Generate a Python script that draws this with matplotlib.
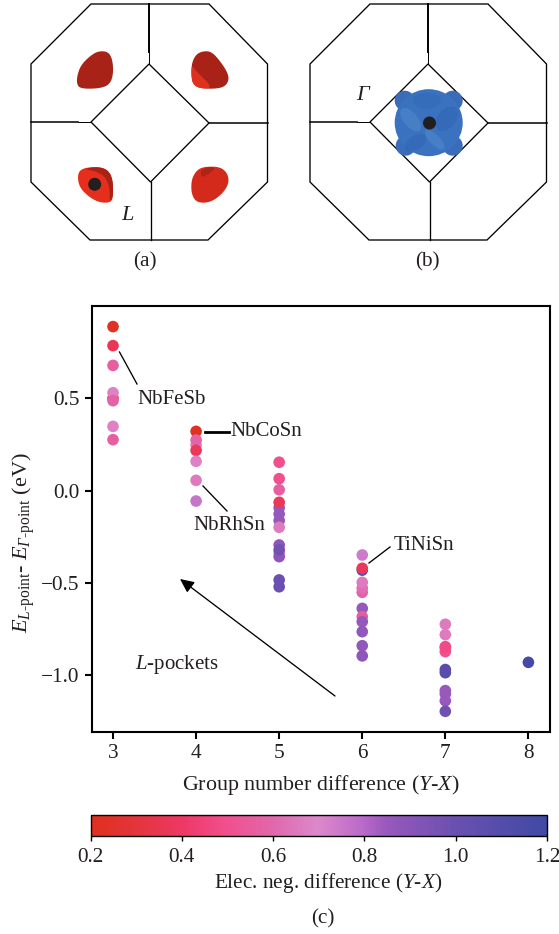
# Brillouin zone sketches and L/Gamma pocket scatter plot
import numpy as np
import matplotlib
matplotlib.use("Agg")
import matplotlib.pyplot as plt
from matplotlib.colors import LinearSegmentedColormap, Normalize
from matplotlib.patches import Circle, Polygon, Ellipse

plt.rcParams['font.family'] = ['Liberation Serif', 'DejaVu Serif']
# capital greek goes to the rm slot in math text, so rm is italic here and sf is the upright one
plt.rcParams['mathtext.fontset'] = 'custom'
plt.rcParams['mathtext.rm'] = 'Liberation Serif:italic'
plt.rcParams['mathtext.it'] = 'Liberation Serif:italic'
plt.rcParams['mathtext.sf'] = 'Liberation Serif'

# energy difference and elec. neg. difference, one pair of lists per group number difference
energy_3 = [0.888, 0.785, 0.678, 0.50, 0.53, 0.487, 0.348, 0.276]
elec_3 = [0.22, 0.36, 0.56, 0.25, 0.68, 0.58, 0.68, 0.56]

energy_4 = [0.321, 0.247, 0.274, 0.218, 0.159, 0.056, -0.056]
elec_4 = [0.22, 0.66, 0.58, 0.37, 0.68, 0.66, 0.76]

energy_5 = [0.154, 0.065, 0.005, -0.092, -0.126, -0.162, -0.063, -0.198,
            -0.294, -0.337, -0.357, -0.32, -0.483, -0.52]
elec_5 = [0.5, 0.5, 0.56, 0.86, 0.86, 0.86, 0.37, 0.66,
          0.88, 0.68, 0.88, 0.97, 1.0, 1.0]

energy_6 = [-0.348, -0.43, -0.42, -0.55, -0.527, -0.496, -0.637, -0.682,
            -0.709, -0.763, -0.839, -0.894]
elec_6 = [0.74, 1.1, 0.37, 0.58, 0.62, 0.66, 0.86, 0.55, 0.86, 0.87, 0.87, 0.88]

energy_7 = [-0.723, -0.779, -0.844, -0.871, -0.968, -0.985, -1.082, -1.10,
            -1.137, -1.194, -0.85]
elec_7 = [0.66, 0.66, 0.48, 0.5, 1.08, 1.08, 0.85, 0.85, 0.85, 0.98, 0.48]

energy_8 = [-0.929]
elec_8 = [1.17]

groups = [3] * len(energy_3) + [4] * len(energy_4) + [5] * len(energy_5) \
    + [6] * len(energy_6) + [7] * len(energy_7) + [8] * len(energy_8)
energies = energy_3 + energy_4 + energy_5 + energy_6 + energy_7 + energy_8
elecs = elec_3 + elec_4 + elec_5 + elec_6 + elec_7 + elec_8

x_ticks = [3, 4, 5, 6, 7, 8]
y_ticks = [-1.0, -0.5, 0.0, 0.5]
y_labels = ['\u22121.0', '\u22120.5', '0.0', '0.5']
cbar_ticks = [0.2, 0.4, 0.6, 0.8, 1.0, 1.2]

cmap_nodes = [(0.0, '#e02f1e'), (0.1, '#e3353c'), (0.2, '#ee3866'), (0.3, '#f0508f'),
              (0.4, '#e068ac'), (0.5, '#dd88cc'), (0.6, '#b868c8'), (0.65, '#9858bc'),
              (0.8, '#6a50b0'), (1.0, '#4049a5')]
cmap = LinearSegmentedColormap.from_list('elec', cmap_nodes)
norm = Normalize(0.2, 1.2)

W, H = 559, 934
TEXT = '#231f20'
FS = 15.3
fig = plt.figure(figsize=(W / 100, H / 100), dpi=100)


def px_axes(left, top, right, bottom):
    return fig.add_axes([left / W, 1 - bottom / H, (right - left) / W, (bottom - top) / H])


# main scatter panel
ax = px_axes(92, 306, 550, 732)
sc = ax.scatter(groups, energies, c=elecs, cmap=cmap, norm=norm, s=70, linewidths=0, zorder=3)
ax.set_xlim(2.747, 8.26)
ax.set_ylim(-1.306, 0.9995)
ax.set_xticks(x_ticks)
ax.set_yticks(y_ticks)
ax.set_yticklabels(y_labels)
ax.tick_params(direction='out', length=5, width=1.5, labelsize=FS, colors=TEXT, pad=4)
ax.tick_params(axis='both', color='black')
for s in ax.spines.values():
    s.set_linewidth(1.5)
    s.set_color('black')
ax.set_xlabel('Group number difference ($\\mathit{Y}$-$\\mathit{X}$)', fontsize=15.8, color=TEXT, labelpad=7)
ax.set_ylabel('$E_{L\\text{-}\\mathsf{point}}$- $E_{\\Gamma\\text{-}\\mathsf{point}}$ (eV)',
              fontsize=16, color=TEXT)
ax.yaxis.set_label_coords(-0.12, 0.444)

# colour bar
cax = px_axes(90.5, 815, 547, 836)
cb = fig.colorbar(sc, cax=cax, orientation='horizontal')
cb.set_ticks(cbar_ticks)
cb.set_ticklabels(['%.1f' % t for t in cbar_ticks])
cax.tick_params(direction='out', length=3.5, width=1, labelsize=FS, colors=TEXT, pad=5, color='black')
cb.outline.set_linewidth(1)
cb.set_label('Elec. neg. difference ($\\mathit{Y}$-$\\mathit{X}$)', fontsize=FS, color=TEXT, labelpad=3)
cax.xaxis.label.set_x((328.5 - 90.5) / 456.5)

# overlay in pixel coordinates for the sketches and annotations
ov = fig.add_axes([0, 0, 1, 1])
ov.set_xlim(0, W)
ov.set_ylim(H, 0)
ov.axis('off')


def zone(dx):
    octagon = np.array([[91, 4], [209, 4], [267.5, 64], [267.5, 182], [208, 240],
                        [90, 240], [31, 182], [31, 64]], float)
    diamond = np.array([[149, 64], [209, 123], [150.5, 182], [91, 122]], float)
    ov.add_patch(Polygon(octagon + [dx, 0], closed=True, fill=False, ec='black', lw=0.95))
    ov.add_patch(Polygon(diamond + [dx, 0], closed=True, fill=False, ec='black', lw=0.95))
    ov.plot([149 + dx, 149 + dx], [4, 52], color='black', lw=1.4)
    ov.plot([149 + dx, 149 + dx], [52, 64], color='black', lw=0.7)
    ov.plot([150.5 + dx, 150.5 + dx], [182, 240], color='black', lw=0.95)
    ov.plot([31 + dx, 78 + dx], [122, 122], color='black', lw=1.1)
    ov.plot([78 + dx, 91 + dx], [122, 122], color='black', lw=0.7)
    ov.plot([209 + dx, 267.5 + dx], [123, 123], color='black', lw=1.1)


zone(0)
zone(279)


def smooth(points, rounds=3):
    # corner cutting, gives a soft outline from a few traced points
    pts = np.array(points, float) / 3
    for _ in range(rounds):
        nxt = np.roll(pts, -1, axis=0)
        pts = np.column_stack([0.75 * pts + 0.25 * nxt, 0.25 * pts + 0.75 * nxt]).reshape(-1, 2)
    return pts


def blob(points, color, z=2):
    ov.add_patch(Polygon(smooth(points), closed=True, fc=color, ec='none', zorder=z))


def oval(cx, cy, rx, ry, angle, color, z=2, alpha=1.0):
    ov.add_patch(Ellipse((cx, cy), 2 * rx, 2 * ry, angle=angle, fc=color, ec='none', zorder=z, alpha=alpha))


# red pockets, traced on a 3x crop
blob([(232, 225), (243, 195), (270, 168), (295, 153), (325, 155), (338, 180), (340, 225),
      (328, 255), (295, 266), (240, 266), (230, 250)], '#a82217')
blob([(575, 190), (588, 163), (610, 153), (635, 155), (662, 185), (687, 225), (683, 252),
      (660, 266), (600, 266), (578, 252), (574, 225)], '#a82217')
blob([(575, 195), (590, 215), (640, 264), (600, 266), (578, 252), (574, 225)], '#e0301e', 3)
blob([(232, 525), (245, 505), (290, 500), (322, 508), (338, 535), (340, 590), (332, 608),
      (300, 608), (268, 592), (238, 562)], '#e62e1c')
blob([(250, 507), (290, 500), (322, 508), (338, 535), (340, 590), (328, 606), (330, 570),
      (318, 532), (290, 514)], '#a82217', 3)
blob([(574, 540), (588, 513), (610, 500), (660, 500), (683, 520), (687, 550), (667, 582),
      (630, 608), (590, 608), (574, 582)], '#d42a1c')
blob([(600, 512), (625, 500), (650, 503), (622, 525), (605, 532)], '#b02418', 3)

# blue pocket
gamma_x, gamma_y = 428.7, 122.7
for ddx, ddy in [(-24, -22), (24, -22), (-23, 23), (24, 23)]:
    oval(gamma_x + ddx, gamma_y + ddy, 10, 10, 0, '#3a6cba')
oval(gamma_x, gamma_y, 34, 33.5, 0, '#3a72c0')
oval(gamma_x - 18, gamma_y - 3, 7, 14, -40, '#5c94d2', 3, 0.4)
oval(gamma_x + 18, gamma_y - 4, 9, 14, 40, '#2c5fac', 3, 0.4)
oval(gamma_x - 2, gamma_y - 22, 14, 8, 0, '#2f66b4', 3, 0.4)
oval(gamma_x + 6, gamma_y + 17, 5, 13, -45, '#5c94d2', 3, 0.4)
oval(gamma_x - 13, gamma_y + 20, 12, 7, -35, '#2c5fac', 3, 0.4)

# dots marking L and Gamma
ov.add_patch(Circle((94.7, 184.3), 6.5, fc=TEXT, ec='none', zorder=4))
ov.add_patch(Circle((429.5, 123), 6.5, fc=TEXT, ec='none', zorder=4))

ov.text(128, 216, '$L$', fontsize=16, color=TEXT, ha='center', va='center')
ov.text(364, 96, '$\\Gamma$', fontsize=16, color=TEXT, ha='center', va='center')
ov.text(145, 262, '(a)', fontsize=FS, color=TEXT, ha='center', va='center')
ov.text(427, 262, '(b)', fontsize=FS, color=TEXT, ha='center', va='center')
ov.text(323, 919, '(c)', fontsize=FS, color=TEXT, ha='center', va='center')

# compound labels with leader lines
ov.text(137, 399, 'NbFeSb', fontsize=15, color=TEXT, ha='left', va='center')
ov.plot([119.5, 137], [352, 384], color='black', lw=0.95)
ov.text(230.5, 431, 'NbCoSn', fontsize=15, color=TEXT, ha='left', va='center')
ov.plot([205, 229], [431.5, 431.5], color='black', lw=2.0)
ov.text(193.5, 525, 'NbRhSn', fontsize=15, color=TEXT, ha='left', va='center')
ov.plot([203, 227], [486, 511], color='black', lw=0.95)
ov.text(394, 545, 'TiNiSn', fontsize=15, color=TEXT, ha='left', va='center')
ov.plot([369, 390], [563, 547], color='black', lw=0.95)

ov.text(135, 664, '$L$-pockets', fontsize=15, color=TEXT, ha='left', va='center')
ov.annotate('', xy=(180, 579), xytext=(335, 696),
            arrowprops=dict(arrowstyle='-|>,head_length=0.6,head_width=0.28', color='black', lw=0.95,
                            mutation_scale=14, shrinkA=0, shrinkB=0))

fig.savefig('out.png', dpi=100)
